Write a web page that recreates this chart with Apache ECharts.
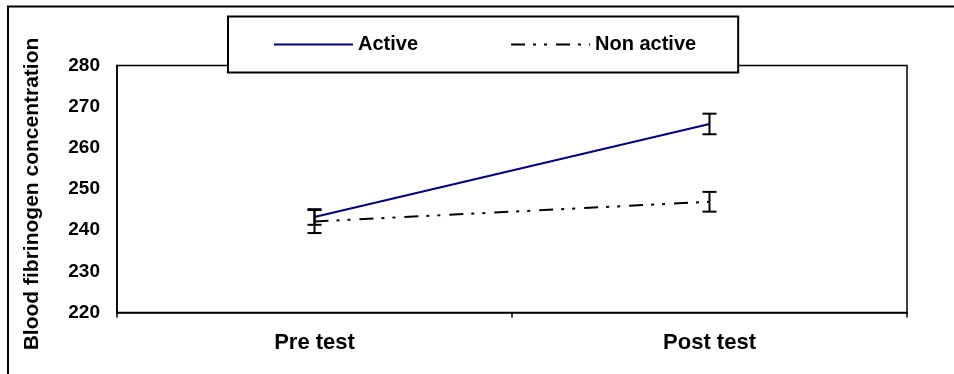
<!DOCTYPE html>
<html>
<head>
<meta charset="utf-8">
<script src="https://cdn.jsdelivr.net/npm/echarts@6/dist/echarts.min.js"></script>
<style>
  html, body { margin: 0; padding: 0; background: #fff; }
  #chart { width: 954px; height: 374px; }
</style>
</head>
<body>
<div id="chart"></div>
<script>
// Blood fibrinogen concentration, pre and post test, with error bars
const categories = ['Pre test', 'Post test'];
const activeMean = [243.2, 265.8];
const activeErr = [1.9, 2.5];
const nonActiveMean = [242.1, 246.9];
const nonActiveErr = [2.8, 2.4];
const yTicks = { min: 220, max: 280, step: 10 };

const FONT = '"Liberation Sans", Arial, sans-serif';
const chart = echarts.init(document.getElementById('chart'), null, { renderer: 'canvas' });

// Error bars (stem plus two caps) for one series
function errorBarSeries(name, means, errs) {
  return {
    name: name,
    type: 'custom',
    z: 5,
    data: means.map((m, i) => [i, m - errs[i], m + errs[i]]),
    renderItem: function (params, api) {
      const lo = api.coord([api.value(0), api.value(1)]);
      const hi = api.coord([api.value(0), api.value(2)]);
      const half = 7;
      const style = { stroke: '#000', lineWidth: 2 };
      return {
        type: 'group',
        children: [
          { type: 'line', shape: { x1: hi[0], y1: hi[1], x2: lo[0], y2: lo[1] }, style: style },
          { type: 'line', shape: { x1: hi[0] - half, y1: hi[1], x2: hi[0] + half, y2: hi[1] }, style: style },
          { type: 'line', shape: { x1: lo[0] - half, y1: lo[1], x2: lo[0] + half, y2: lo[1] }, style: style }
        ]
      };
    }
  };
}

chart.setOption({
  animation: false,
  backgroundColor: '#fff',
  textStyle: { fontFamily: FONT },
  graphic: [{
    type: 'rect',
    z: 100,
    silent: true,
    shape: { x: 8, y: 6.5, width: 1000, height: 500 },
    style: { fill: 'none', stroke: '#000', lineWidth: 2 }
  }],
  grid: {
    left: 117, top: 65.5, right: 47, bottom: 61.5,
    show: true, borderColor: '#000', borderWidth: 1.5, backgroundColor: 'transparent'
  },
  legend: {
    data: ['Active', 'Non active'],
    left: 228, top: 16.5,
    padding: [18, 42, 18, 45],
    itemWidth: 79, itemHeight: 18, itemGap: 92,
    backgroundColor: '#fff',
    borderColor: '#000', borderWidth: 2, borderRadius: 0,
    itemStyle: { opacity: 0 },
    textStyle: { fontFamily: FONT, fontSize: 20, fontWeight: 'bold', color: '#000' },
    z: 20
  },
  xAxis: {
    type: 'category',
    data: categories,
    boundaryGap: true,
    axisLine: { lineStyle: { color: '#000', width: 1.5 } },
    axisTick: { show: true, length: 5, inside: false, lineStyle: { color: '#000', width: 1.5 } },
    axisLabel: { margin: 19, color: '#000', fontSize: 22, fontWeight: 'bold', fontFamily: FONT },
    splitLine: { show: false }
  },
  yAxis: {
    type: 'value',
    min: yTicks.min, max: yTicks.max, interval: yTicks.step,
    name: 'Blood fibrinogen concentration',
    nameLocation: 'middle',
    nameGap: 74,
    nameTextStyle: { fontFamily: FONT, fontSize: 21, fontWeight: 'bold', color: '#000', padding: [0, 10, 0, 0] },
    axisLine: { show: true, lineStyle: { color: '#000', width: 1.5 } },
    axisTick: { show: false },
    axisLabel: { margin: 17, color: '#000', fontSize: 19, fontWeight: 'bold', fontFamily: FONT },
    splitLine: { show: false }
  },
  series: [
    {
      name: 'Active',
      type: 'line',
      data: activeMean,
      symbol: 'none',
      lineStyle: { color: '#000080', width: 2 },
      itemStyle: { color: '#000080' },
      z: 3
    },
    {
      name: 'Non active',
      type: 'line',
      data: nonActiveMean,
      symbol: 'none',
      lineStyle: { color: '#000', width: 2, type: [14, 8, 3, 8, 3, 9] },
      itemStyle: { color: '#000' },
      z: 3
    },
    errorBarSeries('Active error', activeMean, activeErr),
    errorBarSeries('Non active error', nonActiveMean, nonActiveErr)
  ]
});
</script>
</body>
</html>
